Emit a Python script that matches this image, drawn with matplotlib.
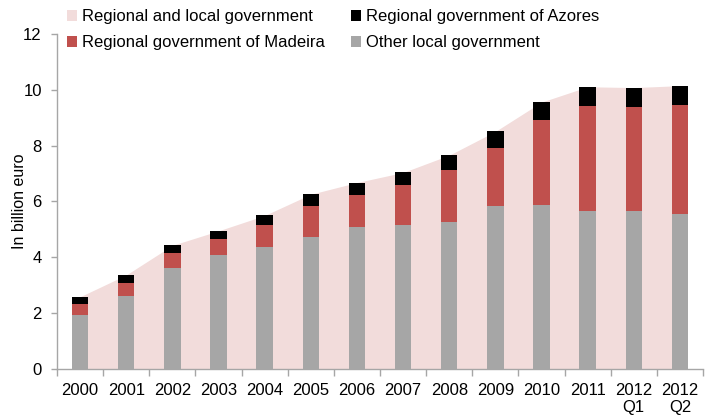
import matplotlib.pyplot as plt
import numpy as np

plt.rcParams['font.family'] = ['Liberation Sans', 'DejaVu Sans']

periods = ['2000', '2001', '2002', '2003', '2004', '2005', '2006', '2007',
           '2008', '2009', '2010', '2011', '2012\nQ1', '2012\nQ2']
# billion euro
other_local = [1.94, 2.63, 3.61, 4.10, 4.36, 4.74, 5.10, 5.16, 5.28, 5.85, 5.88, 5.66, 5.65, 5.57]
madeira = [0.40, 0.45, 0.55, 0.56, 0.80, 1.09, 1.14, 1.42, 1.84, 2.08, 3.04, 3.76, 3.74, 3.89]
azores = [0.25, 0.29, 0.27, 0.29, 0.34, 0.43, 0.44, 0.46, 0.54, 0.58, 0.64, 0.69, 0.69, 0.69]

PINK = '#f2dcdb'
RED = '#c0504d'
GRAY = '#a6a6a6'
AXIS = '#a6a6a6'

x = np.arange(len(periods))
other_local = np.array(other_local)
madeira = np.array(madeira)
azores = np.array(azores)
total = other_local + madeira + azores

fig = plt.figure(figsize=(7.13, 4.19), dpi=100)
ax = fig.add_axes([0.080, 0.1193, 0.906, 0.7996])

ax.fill_between(x, 0, total, color=PINK, lw=0, zorder=1,
                label='Regional and local government')
w = 0.355
ax.bar(x, other_local, w, color=GRAY, zorder=2, label='Other local government')
ax.bar(x, madeira, w, bottom=other_local, color=RED, zorder=2,
       label='Regional government of Madeira')
ax.bar(x, azores, w, bottom=other_local + madeira, color='black', zorder=2,
       label='Regional government of Azores')

ax.set_xlim(-0.5, len(periods) - 0.5)
ax.set_ylim(0, 12)
ax.set_yticks(range(0, 13, 2))
ax.set_xticks(x)
ax.set_xticklabels(periods, fontsize=12, linespacing=1.2)
ax.set_xticks(np.arange(-0.5, len(periods)), minor=True)
ax.tick_params(axis='x', which='major', length=0, pad=10)
ax.tick_params(axis='x', which='minor', length=5, color=AXIS, width=1)
ax.tick_params(axis='y', length=4, color=AXIS, width=1, labelsize=12, pad=7)
ax.set_ylabel('In billion euro', fontsize=11.5)
ax.yaxis.set_label_coords(-0.0588, 0.5)
ax.yaxis.label.set_va('center')

for s in ['top', 'right']:
    ax.spines[s].set_visible(False)
for s in ['left', 'bottom']:
    ax.spines[s].set_color(AXIS)
    ax.spines[s].set_linewidth(1)

h, l = ax.get_legend_handles_labels()
order = [0, 2, 3, 1]
fig.legend([h[i] for i in order], [l[i] for i in order], ncol=2,
           loc='upper left', bbox_to_anchor=(0.085, 0.994), frameon=False,
           fontsize=12, handlelength=0.6, handleheight=0.6, handletextpad=0.3,
           columnspacing=1.55, labelspacing=0.66, borderaxespad=0)

fig.savefig('out.png', dpi=100)
